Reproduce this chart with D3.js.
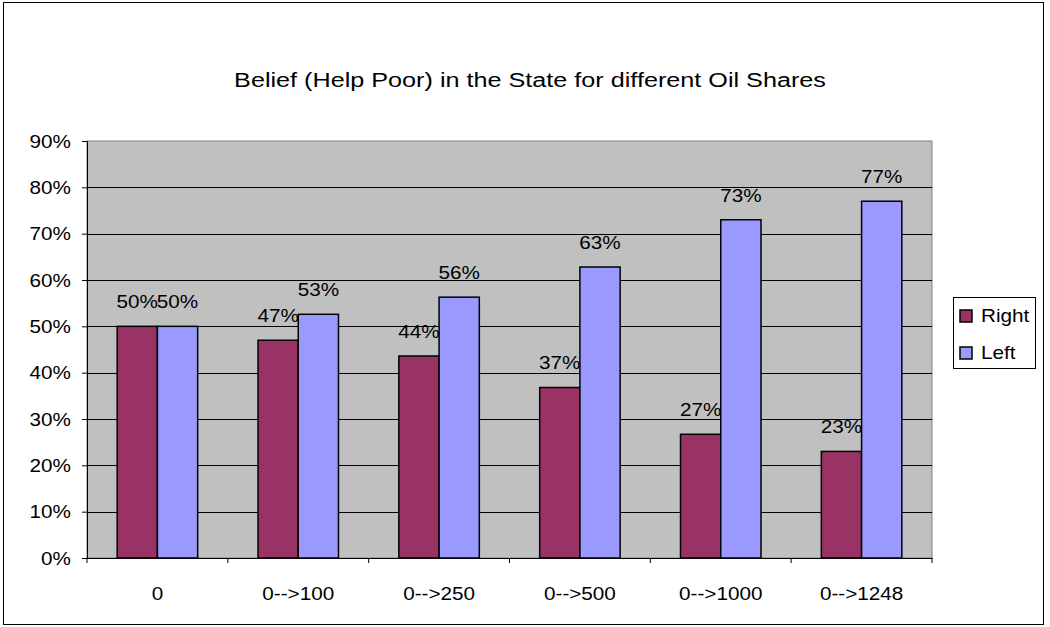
<!DOCTYPE html>
<meta charset="utf-8">
<style>
body { margin: 0; background: #fff; }
text { font-family: "Liberation Sans", Arial, sans-serif; fill: #000; }
</style>
<svg width="1050" height="627"></svg>
<script src="https://d3js.org/d3.v7.min.js"></script>
<script>

var categories = ["0", "0-->100", "0-->250", "0-->500", "0-->1000", "0-->1248"];
var series = ["Right", "Left"];
var rightValues = [0.50, 0.47, 0.436, 0.368, 0.267, 0.23];
var leftValues = [0.50, 0.526, 0.563, 0.628, 0.73, 0.77];
var yTicks = [0, 0.1, 0.2, 0.3, 0.4, 0.5, 0.6, 0.7, 0.8, 0.9];
var colors = ["#993366", "#9999ff"];

var title = "Belief (Help Poor) in the State for different Oil Shares";

// the picture is a bit stretched sideways, so text is too
var sx = 1.15;

var svg = d3.select("svg"),
    width = +svg.attr("width"),
    height = +svg.attr("height");

var plot = {left: 87, right: 932, top: 141, bottom: 558};

// outer frame
svg.append("rect")
    .attr("x", 3.5).attr("y", 2.5)
    .attr("width", 1040).attr("height", 622)
    .attr("fill", "#fff")
    .attr("stroke", "#000")
    .attr("stroke-width", 1);

svg.append("text")
    .attr("transform", "translate(530,87) scale(1.2,1)")
    .attr("text-anchor", "middle")
    .style("font-size", "21px")
    .text(title);

var x0 = d3.scaleBand()
    .domain(categories)
    .range([plot.left, plot.right])
    .padding(0);

var x1 = d3.scaleBand()
    .domain(series)
    .range([0, x0.bandwidth()])
    .paddingInner(0)
    .paddingOuter(0.75);

var y = d3.scaleLinear()
    .domain([0, 0.9])
    .range([plot.bottom, plot.top]);

// plot background
svg.append("rect")
    .attr("x", plot.left).attr("y", plot.top)
    .attr("width", plot.right - plot.left)
    .attr("height", plot.bottom - plot.top)
    .attr("fill", "#c0c0c0")
    .attr("stroke", "#808080")
    .attr("stroke-width", 1);

// gridlines
svg.append("g")
  .selectAll("line")
  .data(yTicks.filter(function(d) { return d > 0 && d < 0.9; }))
  .enter().append("line")
    .attr("x1", plot.left).attr("x2", plot.right)
    .attr("y1", function(d) { return Math.round(y(d)) + 0.5; })
    .attr("y2", function(d) { return Math.round(y(d)) + 0.5; })
    .attr("stroke", "#000")
    .attr("stroke-width", 1);

var rows = categories.map(function(c, i) {
  return {cat: c, vals: [rightValues[i], leftValues[i]]};
});

var group = svg.append("g")
  .selectAll("g")
  .data(rows)
  .enter().append("g")
    .attr("transform", function(d) { return "translate(" + x0(d.cat) + ",0)"; });

var bars = group.selectAll("rect")
  .data(function(d) {
    return series.map(function(s, j) { return {s: s, v: d.vals[j], j: j}; });
  })
  .enter();

bars.append("rect")
    .attr("x", function(d) { return x1(d.s); })
    .attr("y", function(d) { return y(d.v); })
    .attr("width", x1.bandwidth())
    .attr("height", function(d) { return y(0) - y(d.v); })
    .attr("fill", function(d) { return colors[d.j]; })
    .attr("stroke", "#000")
    .attr("stroke-width", 1.5);

bars.append("text")
    .attr("transform", function(d) {
      return "translate(" + (x1(d.s) + x1.bandwidth() / 2) + "," + (y(d.v) - 18) + ") scale(" + sx + ",1)";
    })
    .attr("text-anchor", "middle")
    .style("font-size", "18px")
    .text(function(d) { return Math.round(d.v * 100) + "%"; });

// y axis
var yAxis = svg.append("g")
    .attr("transform", "translate(" + plot.left + ",0)")
    .call(d3.axisLeft(y).tickValues(yTicks).tickSize(5).tickFormat(d3.format(".0%")));

yAxis.select(".domain").attr("stroke", "#000");
yAxis.selectAll(".tick line").attr("stroke", "#000");
yAxis.selectAll(".tick text")
    .attr("x", -16 / sx)
    .attr("dy", "0.35em")
    .attr("transform", "scale(" + sx + ",1)")
    .style("font-size", "18px")
    .attr("font-family", null);

// x axis, ticks sit between the categories
var xAxis = svg.append("g")
    .attr("transform", "translate(0," + plot.bottom + ")")
    .call(d3.axisBottom(x0).tickSize(0).tickPadding(29));

xAxis.select(".domain").attr("stroke", "#000");
xAxis.selectAll(".tick text")
    .attr("transform", "scale(" + sx + ",1)")
    .style("font-size", "18px")
    .attr("font-family", null);

xAxis.selectAll(".edge")
  .data(categories.map(function(c) { return x0(c); }).concat([x0.range()[1]]))
  .enter().append("line")
    .attr("class", "edge")
    .attr("x1", function(d) { return d; })
    .attr("x2", function(d) { return d; })
    .attr("y1", 0).attr("y2", 5)
    .attr("stroke", "#000");

// legend
var legend = svg.append("g").attr("transform", "translate(953,297)");

legend.append("rect")
    .attr("x", 0.5).attr("y", 0.5)
    .attr("width", 82).attr("height", 71)
    .attr("fill", "#fff")
    .attr("stroke", "#000");

var item = legend.selectAll(".item")
  .data(series)
  .enter().append("g")
    .attr("class", "item")
    .attr("transform", function(d, i) { return "translate(7," + (13 + i * 37) + ")"; });

item.append("rect")
    .attr("width", 12).attr("height", 12)
    .attr("fill", function(d, i) { return colors[i]; })
    .attr("stroke", "#000")
    .attr("stroke-width", 1.5);

item.append("text")
    .attr("transform", "translate(21,12) scale(" + sx + ",1)")
    .style("font-size", "18px")
    .text(function(d) { return d; });

</script>
